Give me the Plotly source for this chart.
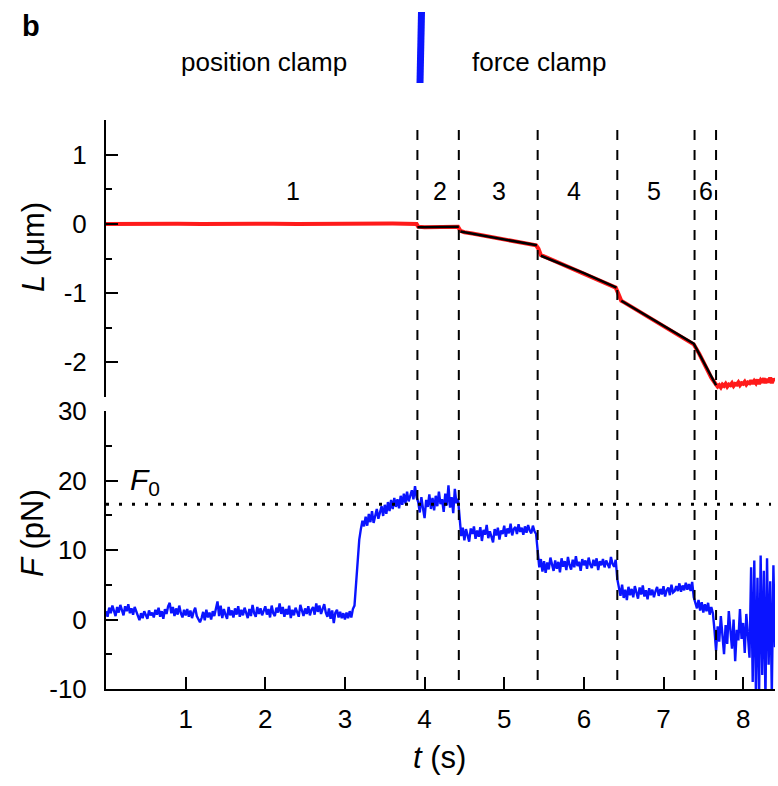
import plotly.graph_objects as go

# ---------------- data ----------------
# Extension L (um) of the red trace
L_t = [0.0, 0.3, 0.6, 0.9, 1.2, 1.5, 1.8, 2.1, 2.4, 2.7, 3.0, 3.3, 3.6, 3.9,
       3.92, 4.0, 4.1, 4.2, 4.3, 4.42, 4.45, 4.5, 4.6, 4.7, 4.8, 4.9,
       5.0, 5.1, 5.2, 5.3, 5.40, 5.43, 5.46, 5.5, 5.6, 5.7, 5.8, 5.9,
       6.0, 6.1, 6.2, 6.3, 6.40, 6.43, 6.47, 6.5, 6.6, 6.7, 6.8, 6.9,
       7.0, 7.1, 7.2, 7.3, 7.38, 7.45, 7.5, 7.55, 7.6,
       7.66, 7.68, 7.70, 7.72, 7.74, 7.76, 7.78, 7.80, 7.82, 7.84,
       7.86, 7.88, 7.90, 7.92, 7.94, 7.96, 7.98, 8.00, 8.02, 8.04,
       8.06, 8.08, 8.10, 8.12, 8.14, 8.16, 8.18, 8.20, 8.22, 8.24,
       8.26, 8.28, 8.30, 8.32, 8.34, 8.36, 8.38, 8.40]
L_v = [0.00, 0.004, 0.00, 0.003, -0.002, 0.004, 0.00, 0.003, 0.00, 0.004, 0.00, 0.003, 0.005, 0.00,
       -0.04, -0.05, -0.05, -0.05, -0.04, -0.04, -0.10, -0.12, -0.14, -0.16, -0.18, -0.20,
       -0.22, -0.25, -0.27, -0.29, -0.31, -0.36, -0.45, -0.47, -0.52, -0.57, -0.62, -0.67,
       -0.72, -0.77, -0.82, -0.87, -0.92, -1.00, -1.11, -1.13, -1.20, -1.27, -1.34, -1.41,
       -1.48, -1.55, -1.62, -1.68, -1.74, -1.88, -2.00, -2.12, -2.22,
       -2.32, -2.35, -2.33, -2.36, -2.32, -2.34, -2.31, -2.35, -2.32, -2.33,
       -2.30, -2.34, -2.31, -2.32, -2.29, -2.33, -2.30, -2.31, -2.28, -2.32,
       -2.29, -2.30, -2.26, -2.31, -2.27, -2.30, -2.25, -2.31, -2.26, -2.29,
       -2.23, -2.30, -2.24, -2.29, -2.22, -2.30, -2.24, -2.27]

# black fitted segments (None separates segments)
fit_t = [3.91, 4.43, None, 4.45, 5.0, 5.41, None, 5.46, 6.0, 6.41, None,
         6.47, 7.0, 7.38, 7.66]
fit_v = [-0.05, -0.04, None, -0.11, -0.22, -0.31, None, -0.46, -0.71, -0.92, None,
         -1.11, -1.47, -1.73, -2.33]

# Force F (pN), sampled every 0.02 s from t = 0
F_dt = 0.02
F_v = [
    # 0.00 - 3.10
    1.2, 0.4, 1.7, 0.9, 2.0, 1.1, 0.5, 1.8, 1.0, 2.1,
    1.3, 0.6, 1.9, 1.2, 2.2, 0.9, 1.6, 0.7, 1.8, 1.2,
    0.4, -0.1, 0.9, 0.2, 1.2, 0.5, 0.1, 1.3, 0.6, 1.0,
    0.3, 1.4, 0.7, 1.7, 0.4, 1.2, 0.1, 1.5, 0.8, 1.9,
    2.4, 0.9, 1.8, 0.5, 1.6, 0.7, 2.0, 0.9, 0.3, 1.4,
    0.6, 1.5, 0.4, 1.3, 0.2, 1.1, 1.7, 0.5, 0.0, -0.4,
    0.2, 1.1, -0.1, 1.4, 0.3, 1.0, 0.0, 1.2, 0.5, 1.6,
    2.6, 0.5, 2.0, 0.2, 1.5, 0.7, 0.1, 1.8, 0.6, 1.3,
    0.3, 1.6, 0.7, 1.9, 0.4, 1.4, 0.6, 1.7, 0.8, 0.2,
    1.5, 0.5, 2.1, 0.9, 0.4, 1.8, 0.8, 1.6, 0.6, 1.4,
    1.9, 0.7, 1.5, 0.3, 2.0, 0.9, 0.5, 1.7, 1.0, 2.3,
    0.8, 1.8, 0.4, 1.5, 0.7, 2.0, 0.2, 1.4, 0.6, 1.7,
    0.9, 0.4, 2.1, 1.1, 0.5, 1.6, 0.8, 1.9, 0.6, 1.4,
    1.8, 0.7, 2.3, 1.1, 2.0, 0.8, 1.7, 2.2, 1.0, 0.4,
    1.6, 0.1, 1.3, -0.5, 1.0, 1.4, 0.3, 1.1, 0.2, 0.9,
    0.0, 1.0, 0.2, 1.2, 0.3, 1.5,
    # 3.12 - 3.24 rise
    2.0, 5.0, 8.5, 11.5, 13.0, 14.2, 13.4,
    # 3.26 - 3.90
    14.8, 13.5, 15.2, 14.0, 15.6, 13.9, 15.1, 15.9, 14.5, 15.4,
    16.3, 14.9, 16.5, 15.2, 16.9, 15.6, 17.2, 15.9, 17.5, 16.2,
    17.3, 16.0, 17.8, 16.5, 18.1, 16.7, 18.4, 17.0, 17.9, 18.6,
    17.3, 19.2, 17.6,
    # 3.92 - 4.42
    16.9, 15.4, 17.6, 16.0, 14.6, 17.2, 16.2, 18.0, 15.9, 17.5,
    15.7, 17.8, 16.3, 18.4, 16.6, 17.3, 15.5, 18.1, 16.4, 19.3,
    16.1, 17.6, 15.3, 18.8, 16.7, 17.4,
    # 4.44 - 5.40
    14.0,
    12.0, 13.2, 11.4, 13.0, 12.1, 11.2, 13.1, 12.3, 13.4, 11.6,
    12.8, 11.9, 13.3, 11.3, 12.9, 12.2, 13.6, 11.7, 12.7, 12.0,
    11.1, 13.0, 12.1, 13.2, 11.5, 12.8, 12.3, 13.5, 11.9, 13.1,
    12.4, 13.8, 12.1, 13.0, 13.3, 12.3, 13.7, 12.6, 13.2, 12.2,
    13.4, 12.5, 13.6, 12.8, 12.4, 13.5, 12.7, 12.3,
    # 5.42 - 6.40
    10.0,
    7.5, 8.7, 6.9, 8.4, 6.7, 8.2, 7.2, 8.9, 7.7, 7.0,
    8.5, 7.3, 8.3, 6.8, 8.8, 7.6, 8.4, 7.1, 9.0, 7.8,
    7.2, 8.6, 7.5, 9.1, 7.7, 8.3, 7.0, 8.7, 7.8, 8.5,
    7.3, 8.9, 7.9, 7.4, 8.6, 7.7, 8.8, 7.1, 8.4, 7.8,
    8.7, 7.5, 8.5, 7.9, 7.4, 9.0, 8.0, 7.6, 8.6,
    # 6.42 - 7.36
    5.8,
    4.5, 3.4, 5.0, 3.1, 4.3, 2.8, 4.7, 3.5, 4.4, 3.2,
    4.8, 3.7, 3.0, 4.6, 3.6, 4.9, 3.3, 4.2, 2.9, 4.5,
    3.5, 4.3, 3.2, 4.1, 4.7, 3.4, 4.4, 3.6, 4.8, 3.3,
    4.2, 4.6, 3.5, 5.0, 3.9, 4.1, 4.8, 4.1, 5.2, 4.0,
    4.9, 4.2, 5.3, 4.3, 5.1, 4.1, 5.4,
    # 7.38 - 7.64
    3.2, 2.4, 1.6, 2.8, 1.3, 2.5, 1.0, 2.2, 1.2, 2.4, 0.7, 1.8, 0.9, -1.5,
    # 7.66 - 8.08
    -4.5, -1.0, -3.2, 0.5, -2.5, -5.0, -0.8, -3.5, 1.2, -2.0,
    -4.2, 0.0, -6.0, -1.5, -3.0, 1.5, -2.8, -0.5, -4.8, 0.8,
    -2.2, -5.5,
    # 8.10 - 8.40
    7.5, -9.0, 8.5, -10.5, 6.0, -11.0, 9.2, -8.0, 7.0, -11.5,
    8.8, -6.5, 5.5, -10.8, 7.8, -4.0,
]
F_t = [round(i * F_dt, 2) for i in range(len(F_v))]

F0 = 16.6
boundaries = [3.91, 4.43, 5.42, 6.42, 7.39, 7.66]
seg_labels = ["1", "2", "3", "4", "5", "6"]
seg_label_t = [2.35, 4.19, 4.93, 5.87, 6.88, 7.53]

x_ticks = [1, 2, 3, 4, 5, 6, 7, 8]
L_ticks = [-2, -1, 0, 1]
F_ticks = [-10, 0, 10, 20, 30]

# ---------------- figure ----------------
FONT = "Liberation Sans, Arial, sans-serif"
W, H = 778, 786
ML, MR, MT, MB = 106, 3, 120, 97
PW, PH = W - ML - MR, H - MT - MB


def px(x):
    return (x - ML) / PW


def py(y):
    return (H - MB - y) / PH


fig = go.Figure()
fig.add_trace(go.Scatter(x=L_t, y=L_v, mode="lines", xaxis="x2", yaxis="y2",
                         line=dict(color="#ff1a1a", width=4), showlegend=False))
fig.add_trace(go.Scatter(x=fit_t, y=fit_v, mode="lines", xaxis="x2", yaxis="y2",
                         line=dict(color="black", width=2.5), showlegend=False,
                         connectgaps=False))
fig.add_trace(go.Scatter(x=F_t, y=F_v, mode="lines", xaxis="x", yaxis="y",
                         line=dict(color="#0a14ff", width=2.4), showlegend=False))
# F0 dotted line
fig.add_trace(go.Scatter(x=[0, 8.35], y=[F0, F0], mode="lines", xaxis="x", yaxis="y",
                         line=dict(color="black", width=3, dash="3px,10px"),
                         showlegend=False))

tickfont = dict(family=FONT, size=26, color="black")
top_dom = [py(397), 1.0]
bot_dom = [0.0, py(411)]


def hy(vals):
    return [str(v).replace("\u2212", "-") for v in vals]


fig.update_layout(
    width=W, height=H,
    margin=dict(l=ML, r=MR, t=MT, b=MB),
    plot_bgcolor="white", paper_bgcolor="white",
    xaxis=dict(domain=[0, 1], range=[0, 8.4], tickvals=x_ticks, ticktext=hy(x_ticks),
               ticks="inside", ticklen=12, tickwidth=2, tickcolor="black", showline=True,
               linecolor="black", linewidth=2, showgrid=False, zeroline=False,
               tickfont=tickfont, anchor="y", ticklabelstandoff=6),
    yaxis=dict(domain=bot_dom, range=[-10, 30], tickvals=F_ticks, ticktext=hy(F_ticks),
               ticks="inside", ticklen=12, tickwidth=2, tickcolor="black", showline=True,
               linecolor="black", linewidth=2, showgrid=False, zeroline=False,
               tickfont=tickfont, anchor="x", ticklabelstandoff=12,
               minor=dict(dtick=5, tick0=-10, ticks="inside", ticklen=6,
                          tickwidth=2, tickcolor="black", showgrid=False)),
    xaxis2=dict(domain=[0, 1], range=[0, 8.4], matches="x", visible=False,
                anchor="y2", showgrid=False, zeroline=False),
    yaxis2=dict(domain=top_dom, range=[-2.5, 1.5], tickvals=L_ticks, ticktext=hy(L_ticks),
                ticks="inside", ticklen=12, tickwidth=2, tickcolor="black", showline=True,
                linecolor="black", linewidth=2, showgrid=False, zeroline=False,
                tickfont=tickfont, anchor="x2", ticklabelstandoff=12,
                minor=dict(dtick=0.5, tick0=-2.5, ticks="inside", ticklen=6,
                           tickwidth=2, tickcolor="black", showgrid=False)),
)

# dashed boundaries spanning both panels
for b in boundaries:
    fig.add_shape(type="line", xref="x", yref="paper", x0=b, x1=b,
                  y0=py(680), y1=py(122),
                  line=dict(color="black", width=2, dash="10px,10px"))

# blue marker between the clamp labels
fig.add_shape(type="line", xref="paper", yref="paper",
              x0=px(421.5), x1=px(420), y0=py(12), y1=py(83),
              line=dict(color="#0a14ff", width=7))


def pa(x, y, text, size, angle=0, xanchor="center"):
    return dict(x=px(x), y=py(y), xref="paper", yref="paper", text=text,
                textangle=angle, showarrow=False, xanchor=xanchor, yanchor="middle",
                font=dict(family=FONT, size=size, color="black"))


ann = []
for lab, t in zip(seg_labels, seg_label_t):
    ann.append(dict(x=t, y=0.47, xref="x2", yref="y2", text=lab, showarrow=False,
                    xanchor="center", yanchor="middle",
                    font=dict(family=FONT, size=25, color="black")))
ann += [
    dict(x=0.27, y=19.9, xref="x", yref="y", text="<i>F</i><sub>0</sub>",
         xanchor="left", yanchor="middle", showarrow=False,
         font=dict(family=FONT, size=30, color="black")),
    pa(33, 247, "<i>L</i> (μm)", 31, -90),
    pa(32, 533, "<i>F</i> (pN)", 31, -90),
    pa(439, 757, "<i>t</i> (s)", 31),
    pa(31, 26, "<b>b</b>", 29),
    pa(264, 62, "position clamp", 26),
    pa(539, 62, "force clamp", 26),
]
fig.update_layout(annotations=ann)

fig.write_html("out.html", config={"displayModeBar": False},
               post_script="document.body.style.margin='0';"
                           "document.body.style.overflow='hidden';")
